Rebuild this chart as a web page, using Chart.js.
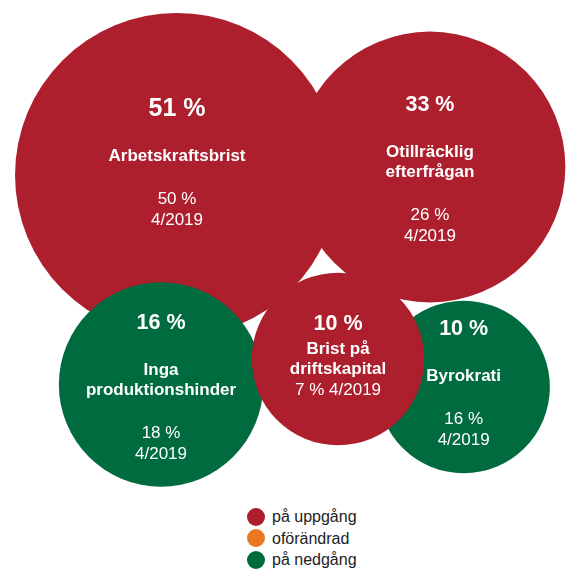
<!DOCTYPE html>
<html>
<head>
<meta charset="utf-8">
<script src="https://cdn.jsdelivr.net/npm/chart.js@4/dist/chart.umd.min.js"></script>
<style>
  body { margin: 0; background: #fff; font-family: "Liberation Sans", Arial, sans-serif; }
  #chartBox { position: absolute; left: 0; top: 0; width: 571px; height: 500px; }
  #legend { position: absolute; left: 247px; top: 506px; font-size: 16px; color: #222; }
  .item { height: 21.5px; line-height: 21.5px; display: flex; align-items: center; }
  .dot { width: 18px; height: 18px; border-radius: 50%; margin-right: 7px; }
</style>
</head>
<body>
<div id="chartBox"><canvas id="chart"></canvas></div>
<div id="legend"></div>
<script>
// data, in drawing order (last one is drawn on top)
const categories = [
  ["Arbetskraftsbrist"],
  ["Otillräcklig", "efterfrågan"],
  ["Inga", "produktionshinder"],
  ["Byrokrati"],
  ["Brist på", "driftskapital"],
];
const currentValues = [51, 33, 16, 10, 10];
const previousValues = [50, 26, 18, 16, 7];
const previousPeriod = "4/2019";
const trends = ["up", "up", "down", "down", "up"];

const legendKeys = ["up", "same", "down"];
const legendLabels = ["på uppgång", "oförändrad", "på nedgång"];

const trendColors = { up: "#ae1f2e", same: "#e8771f", down: "#006b3e" };

// where each bubble sits (0-100 on both axes), label tweaks
const layout = [
  { x: 31.0, y: 35.0, dy: -10, valueSize: 25 },
  { x: 75.3, y: 33.4, dy: 4, valueSize: 21.5 },
  { x: 28.2, y: 76.9, dy: 4, valueSize: 21.5 },
  { x: 81.2, y: 77.4, dy: -2, valueSize: 21.5 },
  { x: 59.2, y: 71.8, dy: -2, valueSize: 21.5, compact: true },
];

const maxValue = Math.max(...currentValues);
const radiusFor = (v) => 26 + 136 * Math.sqrt(v / maxValue);

const fontFamily = '"Liberation Sans", Arial, sans-serif';

const bubbleLabels = {
  id: "bubbleLabels",
  afterDatasetsDraw(chart) {
    const ctx = chart.ctx;
    const meta = chart.getDatasetMeta(0);
    meta.data.forEach((el, i) => {
      const lay = layout[i];
      const lines = [];
      lines.push({ text: currentValues[i] + " %", font: "bold " + lay.valueSize + "px " + fontFamily, gap: 0 });
      categories[i].forEach((name, j) => {
        lines.push({ text: name, font: "bold 17px " + fontFamily, gap: j === 0 ? (lay.compact ? 25 : 47) : 20 });
      });
      if (lay.compact) {
        lines.push({ text: previousValues[i] + " % " + previousPeriod, font: "17px " + fontFamily, gap: 21 });
      } else {
        lines.push({ text: previousValues[i] + " %", font: "17px " + fontFamily, gap: 43 });
        lines.push({ text: previousPeriod, font: "17px " + fontFamily, gap: 21 });
      }
      let pos = 0;
      lines.forEach((l) => { pos += l.gap; l.pos = pos; });
      const top = el.y + lay.dy - pos / 2;

      ctx.save();
      ctx.fillStyle = "#fff";
      ctx.textAlign = "center";
      ctx.textBaseline = "middle";
      lines.forEach((l) => {
        ctx.font = l.font;
        ctx.fillText(l.text, el.x, top + l.pos);
      });
      ctx.restore();
    });
  },
};

new Chart(document.getElementById("chart").getContext("2d"), {
  type: "bubble",
  data: {
    datasets: [
      {
        data: currentValues.map((v, i) => ({ x: layout[i].x, y: layout[i].y, r: radiusFor(v) })),
        backgroundColor: trends.map((t) => trendColors[t]),
        borderWidth: 0,
        hoverBorderWidth: 0,
        clip: false,
      },
    ],
  },
  options: {
    responsive: true,
    maintainAspectRatio: false,
    animation: false,
    events: [],
    layout: { padding: 0, autoPadding: false }, // no room kept for bubble overflow
    scales: {
      x: { display: false, min: 0, max: 100 },
      y: { display: false, min: 0, max: 100, reverse: true },
    },
    plugins: {
      legend: { display: false },
      tooltip: { enabled: false },
    },
  },
  plugins: [bubbleLabels],
});

// legend
const legend = document.getElementById("legend");
legendKeys.forEach((k, i) => {
  const row = document.createElement("div");
  row.className = "item";
  row.innerHTML = '<span class="dot" style="background:' + trendColors[k] + '"></span>' + legendLabels[i];
  legend.appendChild(row);
});
</script>
</body>
</html>
